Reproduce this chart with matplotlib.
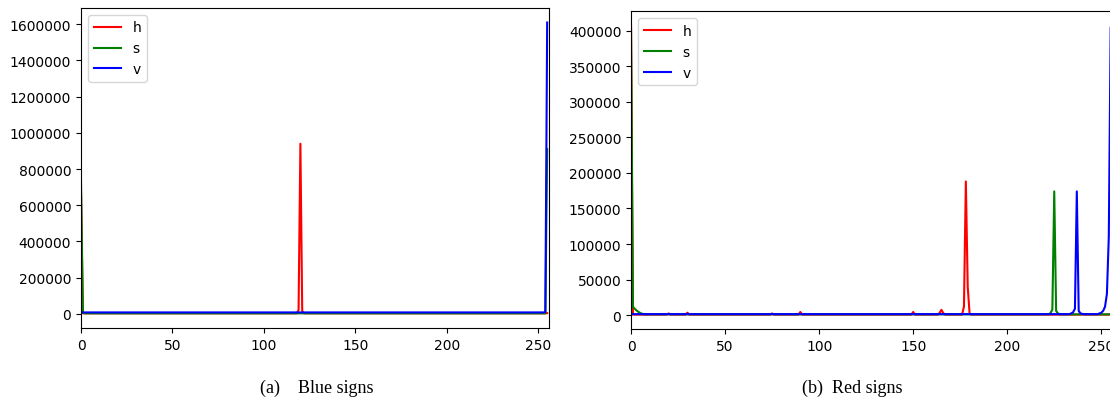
# HSV histograms of the sign images (blue signs / red signs)

import numpy as np
import matplotlib.pyplot as plt

bins = np.arange(256)

# (a) blue signs - non-zero bins
blue_h_bins = [0, 119, 120, 121, 255]
blue_h_vals = [670000, 20000, 940000, 15000, 4000]
blue_s_bins = [0, 1, 255]
blue_s_vals = [720000, 8000, 910000]
blue_v_bins = [0, 1, 253, 254, 255]
blue_v_vals = [8000, 8000, 8000, 10000, 1610000]

# (b) red signs
red_h_bins = [0, 20, 30, 75, 90, 150, 164, 165, 166, 177, 178, 179, 180]
red_h_vals = [407000, 2500, 3500, 2500, 4500, 4500, 3000, 7500, 3000, 12000, 188000, 40000, 2000]
red_s_bins = [0, 1, 2, 3, 4, 5, 6, 223, 224, 225, 226, 227, 240, 255]
red_s_vals = [400000, 12000, 9000, 6500, 4500, 3000, 2000, 3000, 8000, 174000, 6000, 2500, 2000, 2000]
red_v_bins = [0, 1, 234, 235, 236, 237, 238, 239, 249, 250, 251, 252, 253, 254, 255]
red_v_vals = [1500, 1500, 2500, 4000, 9000, 174000, 6000, 2500, 2500, 3500, 6000, 12000, 30000, 110000, 404000]

labels = ['h', 's', 'v']
colors = ['r', 'g', 'b']


def make_hist(idx, vals, base):
    hist = np.full(256, base, dtype=float)
    hist[idx] = vals
    return hist


blue = [make_hist(blue_h_bins, blue_h_vals, 3000),
        make_hist(blue_s_bins, blue_s_vals, 3000),
        make_hist(blue_v_bins, blue_v_vals, 8000)]
red = [make_hist(red_h_bins, red_h_vals, 800),
       make_hist(red_s_bins, red_s_vals, 1200),
       make_hist(red_v_bins, red_v_vals, 1500)]

fig = plt.figure(figsize=(11.1, 4.06), dpi=100)
ax1 = fig.add_axes([0.073, 0.19, 0.4216, 0.788])
ax2 = fig.add_axes([0.5685, 0.187, 0.4338, 0.783])

for ax, hists in [(ax1, blue), (ax2, red)]:
    for hist, col, lab in zip(hists, colors, labels):
        ax.plot(bins, hist, color=col, label=lab, lw=1.5)
    ax.set_xlim([0, 256])
    ax.ticklabel_format(axis='y', style='plain', useOffset=False)
    ax.legend(loc='upper left', fontsize=10)
    ax.tick_params(labelsize=10)

fig.text(0.285, 0.032, '(a)    Blue signs', family='Liberation Serif', fontsize=13, ha='center')
fig.text(0.768, 0.032, '(b)  Red signs', family='Liberation Serif', fontsize=13, ha='center')

plt.savefig('out.png', dpi=100)
